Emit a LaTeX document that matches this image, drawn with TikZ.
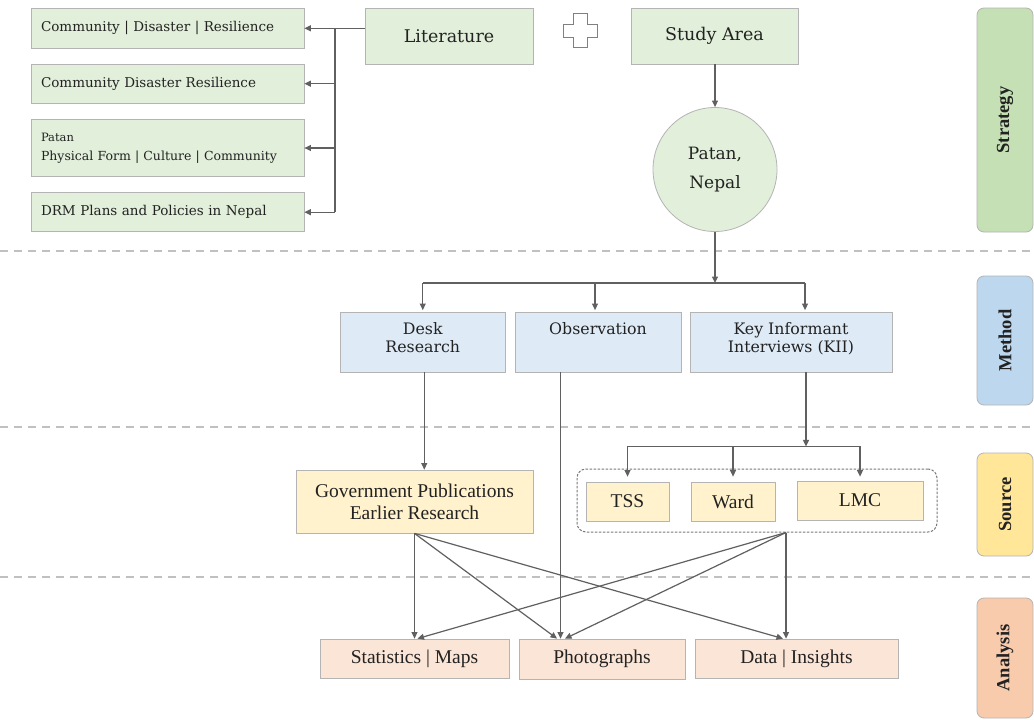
\documentclass[tikz,border=0pt]{standalone}
\usepackage{fontspec}
\setmainfont{DejaVu Serif}
\newfontfamily\lib{Liberation Serif}
\usetikzlibrary{arrows.meta,calc}
\definecolor{grnF}{HTML}{E2EFDA}
\definecolor{bluF}{HTML}{DEEBF7}
\definecolor{yelF}{HTML}{FFF2CC}
\definecolor{salF}{HTML}{FBE5D6}
\definecolor{grnL}{HTML}{C5E0B4}
\definecolor{bluL}{HTML}{BDD7EE}
\definecolor{yelL}{HTML}{FFE699}
\definecolor{salL}{HTML}{F8CBAD}
\definecolor{edgec}{HTML}{B4B4B4}
\definecolor{arrowc}{HTML}{606060}
\definecolor{sepc}{HTML}{C0C0C0}
\definecolor{txtc}{HTML}{222222}
\newcommand\mtext[1]{\parbox[c][60pt][t]{160pt}{\centering\rule{0pt}{22pt}#1}}
\begin{document}
\begin{tikzpicture}[x=1pt,y=-1pt,
  box/.style={draw=edgec, line width=0.8pt, inner sep=0pt, text=txtc},
  lbox/.style={box, fill=grnF, minimum width=273pt, text width=253pt, inner xsep=10pt, align=left, font=\fontsize{13.5}{16}\selectfont},
  gbox/.style={box, fill=grnF, font=\fontsize{17.5}{20}\selectfont},
  mbox/.style={box, fill=bluF, minimum height=60pt, font=\fontsize{15.8}{18}\selectfont},
  sbox/.style={box, fill=yelF, font=\lib\fontsize{19.5}{22}\selectfont, align=center},
  abox/.style={box, fill=salF, font=\lib\fontsize{19.5}{22}\selectfont},
  labbox/.style={draw=edgec, line width=0.8pt, rounded corners=7pt, rotate=90, minimum height=56pt, inner sep=0pt, text=txtc, font=\lib\bfseries\fontsize{18.5}{20}\selectfont},
  line/.style={draw=arrowc, line width=1.2pt},
  arr/.style={line, -{Triangle[length=6.5pt,width=6pt]}},
  sepline/.style={draw=sepc, line width=2pt, dash pattern=on 8pt off 6pt}
]
\useasboundingbox (0,0) rectangle (1034,720);
\fill[white] (0,0) rectangle (1034,720);

% separators
\draw[sepline] (0,251) -- (1034,251);
\draw[sepline] (0,427) -- (1034,427);
\draw[sepline] (0,577) -- (1034,577);

% strategy
\node[lbox, minimum height=40pt] (c1) at (167.5,28.3) {Community | Disaster | Resilience};
\node[lbox, minimum height=39pt] (c2) at (167.5,83.7) {Community Disaster Resilience};
\node[lbox, minimum height=57pt, font=\fontsize{12.5}{19}\selectfont] (c3) at (167.5,148) {{\fontsize{11.5}{19}\selectfont Patan}\\Physical Form | Culture | Community};
\node[lbox, minimum height=39pt] (c4) at (167.5,212.2) {DRM Plans and Policies in Nepal};

\node[gbox, minimum width=168pt, minimum height=56pt] (lit) at (449,36) {Literature};
\node[gbox, minimum width=167pt, minimum height=56pt] (study) at (714.5,36) {Study Area};
\draw[draw=arrowc!80, line width=0.9pt] (573,13) -- (587,13) -- (587,24) -- (597,24) -- (597,37) -- (587,37) -- (587,47) -- (573,47) -- (573,37) -- (563,37) -- (563,24) -- (573,24) -- cycle;

\node[circle, draw=edgec, line width=0.8pt, fill=grnF, minimum size=124pt, inner sep=0pt, align=center, text=txtc, font=\fontsize{17}{29}\selectfont] (pat) at (715,169.5) {Patan,\\Nepal};

\coordinate (j) at (335,28.3);
\draw[line] (lit.west |- j) -- (j);
\draw[arr] (j) -- (c1.east);
\draw[line] (j) -- (j |- c4.east);
\draw[arr] (j |- c2.east) -- (c2.east);
\draw[arr] (j |- c3.east) -- (c3.east);
\draw[arr] (j |- c4.east) -- (c4.east);
\draw[arr] (study.south -| pat.north) -- (pat.north);

% method
\node[mbox, minimum width=165.5pt] (desk) at (422.75,342) {\mtext{Desk\\Research}};
\node[mbox, minimum width=166pt] (obs) at (598,342) {\mtext{Observation}};
\node[mbox, minimum width=202pt] (kii) at (791,342) {\parbox[c][60pt][t]{196pt}{\centering\rule{0pt}{22pt}Key Informant\\Interviews (KII)}};

\coordinate (mb) at (715,283);
\draw[arr] (pat.south) -- (mb);
\coordinate (kin) at ($(kii.north)+(14,-1.5)$);
\coordinate (din) at ($(desk.north)+(0,-1.5)$);
\coordinate (oin) at ($(obs.north)+(-3,-1.5)$);
\draw[line] (din |- mb) -- (kin |- mb);
\draw[arr] (din |- mb) -- (din);
\draw[arr] (oin |- mb) -- (oin);
\draw[arr] (kin |- mb) -- (kin);

% source
\node[sbox, minimum width=237pt, minimum height=63pt] (gov) at (414.5,501.5) {Government Publications\\Earlier Research};
\node[draw=arrowc!85, line width=1pt, dash pattern=on 2.5pt off 1.5pt, rounded corners=9pt, minimum width=360pt, minimum height=63pt, inner sep=0pt] (cont) at (757,500.5) {};
\node[sbox, minimum width=83pt, minimum height=39pt] (tss) at (627.5,501.5) {TSS};
\node[sbox, minimum width=84pt, minimum height=39pt] (ward) at (733,501.5) {Ward};
\node[sbox, minimum width=126pt, minimum height=39pt] (lmc) at (860,500.5) {LMC};

\coordinate (dout) at ($(desk.south)+(1.5,0)$);
\draw[arr] (dout) -- (dout |- gov.north);
\coordinate (kb) at ($(kii.south)+(15,74)$);
\draw[arr] (kii.south -| kb) -- (kb);
\draw[line] (tss.north |- kb) -- (lmc.north |- kb);
\draw[arr] (tss.north |- kb) -- ($(tss.north)+(0,-5)$);
\draw[arr] (ward.north |- kb) -- ($(ward.north)+(0,-5)$);
\draw[arr] (lmc.north |- kb) -- ($(lmc.north)+(0,-4)$);

% analysis
\node[abox, minimum width=189pt, minimum height=39pt] (stats) at (414.5,658.5) {Statistics | Maps};
\node[abox, minimum width=166pt, minimum height=40pt] (photo) at (602,659) {Photographs};
\node[abox, minimum width=203pt, minimum height=39pt] (data) at (796.5,658.5) {Data | Insights};

\coordinate (oout) at ($(obs.south)+(-37.5,0)$);
\draw[arr] (oout) -- (oout |- photo.north);
\coordinate (cs) at ($(cont.south)+(29,0)$);
\draw[arr] (gov.south) -- (stats.north);
\draw[arr] (gov.south) -- ($(photo.north)+(-45,0)$);
\draw[arr] (gov.south) -- ($(data.north)+(-13.5,0)$);
\draw[arr] (cs) -- ($(stats.north)+(3,0)$);
\draw[arr] (cs) -- ($(photo.north)+(-37,0)$);
\draw[arr] (cs) -- (cs |- data.north);

% labels
\node[labbox, fill=grnL, minimum width=224pt] (lstr) at (1005,120) {Strategy};
\node[labbox, fill=bluL, minimum width=129pt] (lmet) at (1005,340.5) {Method};
\node[labbox, fill=yelL, minimum width=103pt] (lsrc) at (1005,504.5) {Source};
\node[labbox, fill=salL, minimum width=120pt] (lana) at (1005,658) {Analysis};
\end{tikzpicture}
\end{document}
